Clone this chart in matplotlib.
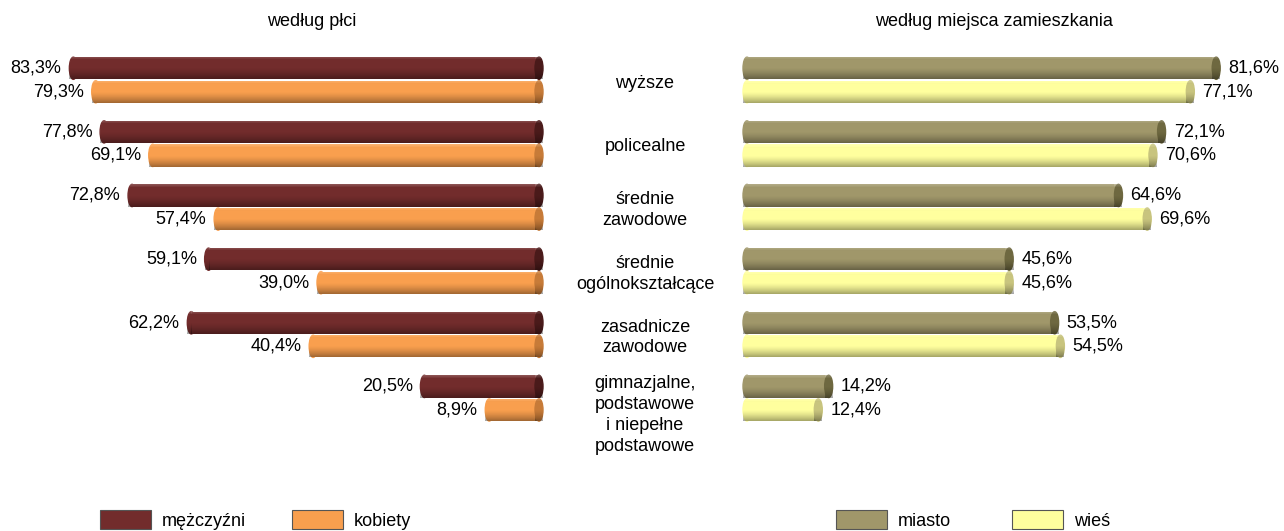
import matplotlib.pyplot as plt
from matplotlib.patches import Ellipse
import numpy as np

plt.rcParams['font.family'] = ['Liberation Sans', 'DejaVu Sans']

categories = ["wyższe", "policealne", "średnie\nzawodowe", "średnie\nogólnokształcące",
              "zasadnicze\nzawodowe", "gimnazjalne,\npodstawowe\ni niepełne\npodstawowe"]
men = [83.3, 77.8, 72.8, 59.1, 62.2, 20.5]
women = [79.3, 69.1, 57.4, 39.0, 40.4, 8.9]
city = [81.6, 72.1, 64.6, 45.6, 53.5, 14.2]
village = [77.1, 70.6, 69.6, 45.6, 54.5, 12.4]

c_men, c_men_cap = "#722C2C", "#4A1A1A"
c_women, c_women_cap = "#F99F4E", "#C77B38"
c_city, c_city_cap = "#A0976A", "#6E6840"
c_vil, c_vil_cap = "#FFFF9E", "#C8C47E"

W, H = 1284, 531
FS = 13
fig = plt.figure(figsize=(12.84, 5.31), dpi=100)

# axes placed in pixel terms
top_px, bot_px = 45, 465
zero_l, zero_r = 539, 747
ax_l = fig.add_axes([0, 1 - bot_px / H, zero_l / W, (bot_px - top_px) / H])
ax_r = fig.add_axes([zero_r / W, 1 - bot_px / H, (W - zero_r) / W, (bot_px - top_px) / H])

y = np.arange(len(categories))
off = 0.185
bh = 0.35
ylim = (6.05, -0.55)

# vertical shading overlay: light rim at top, darker towards the bottom
t = np.linspace(0, 1, 40)
shade = np.zeros((40, 1, 4))
top = t < 0.15
shade[top, 0, :3] = 1.0
shade[top, 0, 3] = 0.2 * (0.15 - t[top]) / 0.15
bot = t > 0.5
shade[bot, 0, 3] = 0.35 * ((t[bot] - 0.5) / 0.5) ** 1.4

def add_shade(ax, x0, x1, yc, z, patch=None):
    im = ax.imshow(shade, extent=(x0, x1, yc + bh / 2, yc - bh / 2), aspect="auto",
                   interpolation="bilinear", zorder=z, clip_on=False)
    if patch is not None:
        im.set_clip_path(patch)

def cyl(ax, vals, ypos, color, cap, px_per_unit, side, label):
    bars = ax.barh(ypos, vals, height=bh, color=color, label=label, zorder=2)
    ew = 8 / px_per_unit
    for v, yy in zip(vals, ypos):
        add_shade(ax, 0, v, yy, 2.1)
        if side == "left":
            far, near, outer = v, 0, (v, v + ew / 2)
        else:
            far, near, outer = 0, v, (-ew / 2, 0)
        e1 = Ellipse((far, yy), ew, bh, color=color, zorder=1.9, clip_on=False)
        e2 = Ellipse((near, yy), ew, bh, color=cap, zorder=3, clip_on=False)
        ax.add_patch(e1)
        ax.add_patch(e2)
        add_shade(ax, outer[0], outer[1], yy, 2.05, e1)
        add_shade(ax, near - ew / 2, near + ew / 2, yy, 3.1, e2)
    return bars

def pct(v):
    return f"{v:.1f}%".replace(".", ",")

# left panel: by sex
s_l = 5.59
cyl(ax_l, men, y - off, c_men, c_men_cap, s_l, "left", "mężczyźni")
cyl(ax_l, women, y + off, c_women, c_women_cap, s_l, "left", "kobiety")
ax_l.set_xlim(zero_l / s_l, 0)
ax_l.set_ylim(*ylim)
for vals, ypos in ((men, y - off), (women, y + off)):
    for v, yy in zip(vals, ypos):
        ax_l.text(v + 2.1, yy, pct(v), ha="right", va="center", fontsize=FS)

# right panel: by place of residence
s_r = 5.75
cyl(ax_r, city, y - off, c_city, c_city_cap, s_r, "right", "miasto")
cyl(ax_r, village, y + off, c_vil, c_vil_cap, s_r, "right", "wieś")
ax_r.set_xlim(0, (W - zero_r) / s_r)
ax_r.set_ylim(*ylim)
for vals, ypos in ((city, y - off), (village, y + off)):
    for v, yy in zip(vals, ypos):
        ax_r.text(v + 2.1, yy, pct(v), ha="left", va="center", fontsize=FS)

for ax in (ax_l, ax_r):
    ax.axis("off")

# category labels in the middle
for cat, yy in zip(categories, y):
    ypx = fig.get_figheight() * fig.dpi - ax_l.transData.transform((0, yy))[1]
    ypx += 17 if cat.count("\n") >= 2 else 3
    fig.text(645 / W, 1 - ypx / H, cat, ha="center", va="center", fontsize=FS, linespacing=1.3)

fig.text(312 / W, 1 - 21 / H, "według płci", ha="center", va="center", fontsize=FS)
fig.text(994 / W, 1 - 21 / H, "według miejsca zamieszkania", ha="center", va="center", fontsize=FS)

h_l, l_l = ax_l.get_legend_handles_labels()
h_r, l_r = ax_r.get_legend_handles_labels()
for hh, ll, x0, cs in ((h_l, l_l, 100, 2.55), (h_r, l_r, 836, 3.38)):
    leg = fig.legend(hh, ll, loc="center left", bbox_to_anchor=(x0 / W, 1 - 520 / H),
                     ncol=2, frameon=False, fontsize=FS, borderpad=0, borderaxespad=0,
                     handlelength=2.82, handleheight=1.22, handletextpad=0.61, columnspacing=cs)
    for p in leg.get_patches():
        p.set_edgecolor("#555555")
        p.set_linewidth(0.8)

fig.savefig("out.png", dpi=100)
